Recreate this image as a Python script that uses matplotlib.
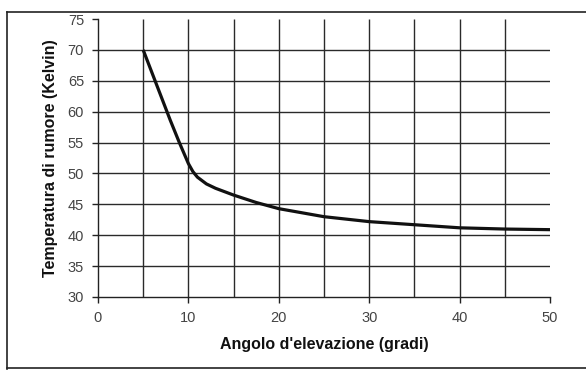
import matplotlib
matplotlib.use("Agg")
import matplotlib.pyplot as plt
from matplotlib.lines import Line2D

plt.rcParams['font.family'] = ['Liberation Sans Narrow', 'Liberation Sans', 'DejaVu Sans']

# elevation angle (degrees) vs. sky noise temperature (K)
angolo = [5, 6, 7, 8, 9, 10, 10.5, 11, 12, 13, 15, 17.5, 20,
          25, 30, 35, 40, 45, 50]
temperatura = [70, 66.2, 62.4, 58.6, 55.0, 51.6, 50.3, 49.4, 48.3, 47.6,
               46.5, 45.3, 44.3, 43.0, 42.2, 41.7, 41.2, 41.0, 40.9]

y_ticks = [30, 35, 40, 45, 50, 55, 60, 65, 70, 75]
x_ticks = [0, 10, 20, 30, 40, 50]
x_grid = [5, 10, 15, 20, 25, 30, 35, 40, 45]
y_grid = [35, 40, 45, 50, 55, 60, 65, 70]

fig = plt.figure(figsize=(5.86, 3.70), dpi=100)
ax = fig.add_axes([0.1672, 0.1973, 0.7714, 0.7513])

ax.set_xlim(0, 50)
ax.set_ylim(30, 75)

# grid without the top and right closing lines
ax.vlines(x_grid, 30, 75, colors='#2a2a2a', lw=1.0, zorder=1)
ax.hlines(y_grid, 0, 50, colors='#2a2a2a', lw=1.0, zorder=1)

ax.plot(angolo, temperatura, color='#111111', lw=2.3, zorder=3,
        solid_capstyle='butt', solid_joinstyle='round')

for side in ('top', 'right'):
    ax.spines[side].set_visible(False)
for side in ('left', 'bottom'):
    ax.spines[side].set_color('#222222')
    ax.spines[side].set_linewidth(1.0)

ax.set_xticks(x_ticks)
ax.set_yticks(y_ticks)
ax.tick_params(axis='both', direction='out', length=4, width=1.0,
               color='#222222', labelcolor='#444444', labelsize=10.5, pad=6)

ax.set_xlabel("Angolo d'elevazione (gradi)", fontsize=11.5, fontweight='bold',
              color='#111111', labelpad=9)
ax.set_ylabel("Temperatura di rumore (Kelvin)", fontsize=11.5, fontweight='bold',
              color='#111111', labelpad=7)

# page frame around the figure
for xs, ys in (([0.012, 0.012], [0.003, 0.967]),
               ([0.012, 1.0], [0.967, 0.967]),
               ([0.012, 1.0], [0.005, 0.005])):
    fig.add_artist(Line2D(xs, ys, transform=fig.transFigure,
                          color='#222222', lw=1.2))

fig.savefig("out.png", dpi=100)
